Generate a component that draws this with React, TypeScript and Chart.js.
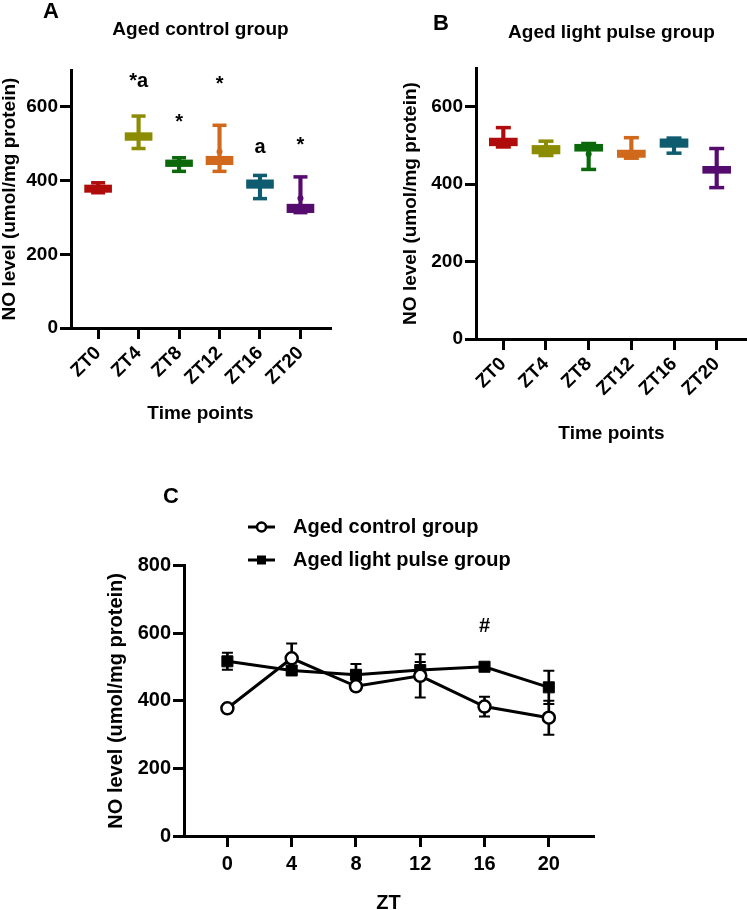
import React, { useEffect, useRef } from 'react';
import { Chart, registerables } from 'chart.js';

Chart.register(...registerables);

const FONT = "'Liberation Sans', Arial, Helvetica, sans-serif";

// ---------- shared ----------
const categories = ['ZT0', 'ZT4', 'ZT8', 'ZT12', 'ZT16', 'ZT20'];
const boxColors = ['#B00C0C', '#8C8C00', '#0B690B', '#D0691C', '#0F5C70', '#560C6E'];
const yLabel = 'NO level (umol/mg protein)';

// ---------- panel A: aged control group (box plots) ----------
const aMin = [367, 487, 425, 425, 351, 313];
const aQ1 = [368, 509, 438, 443, 379, 313];
const aMed = [377, 520, 447, 455, 391, 326];
const aQ3 = [388, 530, 456, 466, 402, 336];
const aMax = [394, 575, 462, 550, 414, 410];
const aMean = [378, 520, 447, 478, 390, 352];
const aMarks = ['', '*a', '*', '*', 'a', '*'];
const aMarkY = [0, 654, 542, 647, 475, 479];

// ---------- panel B: aged light pulse group (box plots) ----------
const bMin = [496, 474, 438, 467, 480, 391];
const bQ1 = [499, 478, 485, 469, 495, 428];
const bMed = [508, 490, 493, 479, 505, 437];
const bQ3 = [519, 500, 503, 488, 517, 446];
const bMax = [546, 511, 505, 520, 519, 492];
const bMean = [510, 490, 478, 481, 505, 437];

// ---------- panel C: line chart ----------
const ztHours = [0, 4, 8, 12, 16, 20];
const controlMean = [378, 526, 443, 474, 383, 350];
const controlSem = [8, 44, 10, 64, 29, 50];
const lightMean = [517, 490, 477, 491, 501, 440];
const lightSem = [25, 12, 32, 24, 10, 49];
const cMarkText = '#';
const cMarkX = 16;
const cMarkY = 603;

const bold = (size: number, lineHeight = 1.2) => ({ family: FONT, size, weight: 'bold' as const, lineHeight });

function textPlugin(draw: (chart: any, ctx: CanvasRenderingContext2D) => void) {
  return {
    id: 'panelText',
    afterDraw(chart: any) {
      const ctx = chart.ctx as CanvasRenderingContext2D;
      ctx.save();
      ctx.fillStyle = '#000';
      draw(chart, ctx);
      ctx.restore();
    },
  };
}

interface BoxSpec {
  min: number[]; q1: number[]; med: number[]; q3: number[]; max: number[]; mean: number[];
  title: string; letter: string; letterX: number; letterY: number;
  xMin: number; xMax: number; boxW: number; capR: number;
  padding: any; titlePad: any; xH: number; yW: number; xTitlePadB: number;
  marks?: string[]; markY?: number[];
}

function axisGrid() {
  return { drawOnChartArea: false, drawTicks: true, tickLength: 11, color: '#000', lineWidth: 3, offset: false };
}

function fixX(h: number) {
  return (sc: any) => {
    sc.height = h;
    sc.paddingLeft = 0;
    sc.paddingRight = 0;
  };
}

function boxConfig(s: BoxSpec): any {
  const idx = categories.map((_, i) => i);
  return {
    type: 'bar',
    data: {
      datasets: [
        {
          type: 'scatter', data: idx.map((i) => ({ x: i, y: s.mean[i] })),
          pointRadius: 3, pointBackgroundColor: boxColors, pointBorderWidth: 0, order: 0,
        },
        {
          type: 'scatter', data: idx.map((i) => ({ x: i, y: s.med[i] })),
          pointStyle: 'line', pointRadius: s.boxW / 2 - 1, pointBorderColor: boxColors, pointBorderWidth: 1.5, order: 1,
        },
        {
          type: 'scatter', data: idx.map((i) => ({ x: i, y: s.max[i] })),
          pointStyle: 'line', pointRadius: s.capR, pointBorderColor: boxColors, pointBorderWidth: 3.5, order: 2,
        },
        {
          type: 'scatter', data: idx.map((i) => ({ x: i, y: s.min[i] })),
          pointStyle: 'line', pointRadius: s.capR, pointBorderColor: boxColors, pointBorderWidth: 3.5, order: 2,
        },
        {
          type: 'bar', data: idx.map((i) => ({ x: i, y: [s.q1[i], s.q3[i]] })),
          backgroundColor: boxColors, barThickness: s.boxW, grouped: false, borderWidth: 0, order: 3,
        },
        {
          type: 'bar', data: idx.map((i) => ({ x: i, y: [s.min[i], s.max[i]] })),
          backgroundColor: boxColors, barThickness: 3.5, grouped: false, borderWidth: 0, order: 4,
        },
      ],
    },
    options: {
      responsive: false,
      animation: false,
      events: [],
      layout: { padding: s.padding, autoPadding: false },
      plugins: {
        legend: { display: false },
        tooltip: { enabled: false },
        title: {
          display: true, text: s.title, fullSize: false, color: '#000',
          font: bold(19), padding: s.titlePad,
        },
      },
      scales: {
        x: {
          type: 'linear', min: s.xMin, max: s.xMax, offset: false,
          grid: axisGrid(),
          border: { display: true, color: '#000', width: 3 },
          ticks: {
            stepSize: 1, includeBounds: false, autoSkip: false, minRotation: 45, maxRotation: 45,
            padding: 3, color: '#000', font: bold(19),
            callback: (v: number) => categories[v] ?? '',
          },
          title: { display: true, text: 'Time points', color: '#000', font: bold(19), padding: { top: 0, bottom: s.xTitlePadB } },
          afterFit: fixX(s.xH),
        },
        y: {
          min: 0, max: 700,
          grid: axisGrid(),
          border: { display: true, color: '#000', width: 3 },
          ticks: { stepSize: 200, includeBounds: false, padding: 2, color: '#000', font: bold(19) },
          title: { display: true, text: yLabel, color: '#000', font: bold(19, 1.05), padding: 0 },
          afterFit: (sc: any) => { sc.width = s.yW; },
        },
      },
    },
    plugins: [
      textPlugin((chart, ctx) => {
        ctx.font = `bold 22px ${FONT}`;
        ctx.textAlign = 'left';
        ctx.textBaseline = 'alphabetic';
        ctx.fillText(s.letter, s.letterX, s.letterY);
        if (s.marks && s.markY) {
          ctx.font = `bold 20px ${FONT}`;
          ctx.textAlign = 'center';
          s.marks.forEach((m, i) => {
            if (!m) return;
            ctx.fillText(m, chart.scales.x.getPixelForValue(i), chart.scales.y.getPixelForValue(s.markY![i]));
          });
        }
      }),
    ],
  };
}

function lineConfig(): any {
  const errBars = (mean: number[], sem: number[], order: number) => [
    {
      type: 'bar', data: ztHours.map((h, i) => ({ x: h, y: [mean[i] - sem[i], mean[i] + sem[i]] })),
      backgroundColor: '#000', barThickness: 2, grouped: false, borderWidth: 0, order,
    },
    {
      type: 'scatter', data: ztHours.map((h, i) => ({ x: h, y: mean[i] + sem[i] })),
      pointStyle: 'line', pointRadius: 5.5, pointBorderColor: '#000', pointBorderWidth: 2, order,
    },
    {
      type: 'scatter', data: ztHours.map((h, i) => ({ x: h, y: mean[i] - sem[i] })),
      pointStyle: 'line', pointRadius: 5.5, pointBorderColor: '#000', pointBorderWidth: 2, order,
    },
  ];
  return {
    type: 'line',
    data: {
      datasets: [
        {
          type: 'line', label: 'Aged control group',
          data: ztHours.map((h, i) => ({ x: h, y: controlMean[i] })),
          borderColor: '#000', borderWidth: 3, tension: 0,
          pointStyle: 'circle', pointRadius: 6, pointBackgroundColor: '#fff', pointBorderColor: '#000', pointBorderWidth: 2.5,
          order: 0,
        },
        {
          type: 'line', label: 'Aged light pulse group',
          data: ztHours.map((h, i) => ({ x: h, y: lightMean[i] })),
          borderColor: '#000', borderWidth: 3, tension: 0,
          pointStyle: 'rect', pointRadius: 7.8, pointBackgroundColor: '#000', pointBorderColor: '#000', pointBorderWidth: 1,
          order: 1,
        },
        ...errBars(controlMean, controlSem, 3),
        ...errBars(lightMean, lightSem, 4),
      ],
    },
    options: {
      responsive: false,
      animation: false,
      events: [],
      layout: { padding: { left: 106, right: 154, top: 125.7, bottom: 0 }, autoPadding: false },
      plugins: { legend: { display: false }, tooltip: { enabled: false } },
      scales: {
        x: {
          type: 'linear', min: -2.7, max: 22.75, offset: false,
          grid: axisGrid(),
          border: { display: true, color: '#000', width: 3 },
          ticks: { stepSize: 4, includeBounds: false, autoSkip: false, maxRotation: 0, padding: 5, color: '#000', font: bold(20) },
          title: { display: true, text: 'ZT', color: '#000', font: bold(20, 1.0), padding: { top: 0, bottom: 7 } },
          afterFit: fixX(84),
        },
        y: {
          min: 0, max: 800,
          grid: axisGrid(),
          border: { display: true, color: '#000', width: 3 },
          ticks: { stepSize: 200, padding: 2, color: '#000', font: bold(20) },
          title: { display: true, text: yLabel, color: '#000', font: bold(20, 1.05), padding: 0 },
          afterFit: (sc: any) => { sc.width = 78; },
        },
      },
    },
    plugins: [
      textPlugin((chart, ctx) => {
        ctx.font = `bold 22px ${FONT}`;
        ctx.textAlign = 'left';
        ctx.textBaseline = 'alphabetic';
        ctx.fillText('C', 163, 63);
        // significance mark
        ctx.font = `bold 20px ${FONT}`;
        ctx.textAlign = 'center';
        ctx.fillText(cMarkText, chart.scales.x.getPixelForValue(cMarkX), chart.scales.y.getPixelForValue(cMarkY));
        // legend
        const ds = chart.data.datasets;
        const rows = [87, 120];
        [0, 1].forEach((k) => {
          const y = rows[k];
          ctx.strokeStyle = '#000';
          ctx.lineWidth = 3;
          ctx.beginPath();
          ctx.moveTo(248, y);
          ctx.lineTo(275, y);
          ctx.stroke();
          if (k === 0) {
            ctx.beginPath();
            ctx.arc(261.5, y, 4.5, 0, Math.PI * 2);
            ctx.fillStyle = '#fff';
            ctx.fill();
            ctx.lineWidth = 2.5;
            ctx.stroke();
          } else {
            ctx.fillStyle = '#000';
            ctx.fillRect(257, y - 4.5, 9, 9);
          }
          ctx.fillStyle = '#000';
          ctx.font = `bold 20px ${FONT}`;
          ctx.textAlign = 'left';
          ctx.textBaseline = 'middle';
          ctx.fillText(ds[k].label, 293, y);
        });
      }),
    ],
  };
}

export default function App() {
  const aRef = useRef<HTMLCanvasElement>(null);
  const bRef = useRef<HTMLCanvasElement>(null);
  const cRef = useRef<HTMLCanvasElement>(null);

  useEffect(() => {
    const charts = [
      new Chart(aRef.current!, boxConfig({
        min: aMin, q1: aQ1, med: aMed, q3: aQ3, max: aMax, mean: aMean,
        title: 'Aged control group', letter: 'A', letterX: 43, letterY: 18,
        xMin: -0.67, xMax: 5.73, boxW: 27, capR: 7,
        padding: { left: 0, right: 40, top: 0, bottom: 0 },
        titlePad: { top: 18.6, bottom: 28.6 }, xH: 102, yW: 71, xTitlePadB: 5,
        marks: aMarks, markY: aMarkY,
      })),
      new Chart(bRef.current!, boxConfig({
        min: bMin, q1: bQ1, med: bMed, q3: bQ3, max: bMax, mean: bMean,
        title: 'Aged light pulse group', letter: 'B', letterX: 63, letterY: 30,
        xMin: -0.64, xMax: 5.71, boxW: 28, capR: 7.5,
        padding: { left: 31, right: 0, top: 0, bottom: 0 },
        titlePad: { top: 21.6, bottom: 23.6 }, xH: 111, yW: 75, xTitlePadB: 5,
      })),
      new Chart(cRef.current!, lineConfig()),
    ];
    return () => charts.forEach((c) => c.destroy());
  }, []);

  return (
    <div style={{ position: 'absolute', left: 0, top: 0, width: 747, height: 910, overflow: 'hidden', background: '#fff' }}>
      <canvas ref={aRef} width={370} height={430} style={{ position: 'absolute', left: 0, top: 0 }} />
      <canvas ref={bRef} width={377} height={450} style={{ position: 'absolute', left: 370, top: 0 }} />
      <canvas ref={cRef} width={747} height={480} style={{ position: 'absolute', left: 0, top: 440 }} />
    </div>
  );
}
